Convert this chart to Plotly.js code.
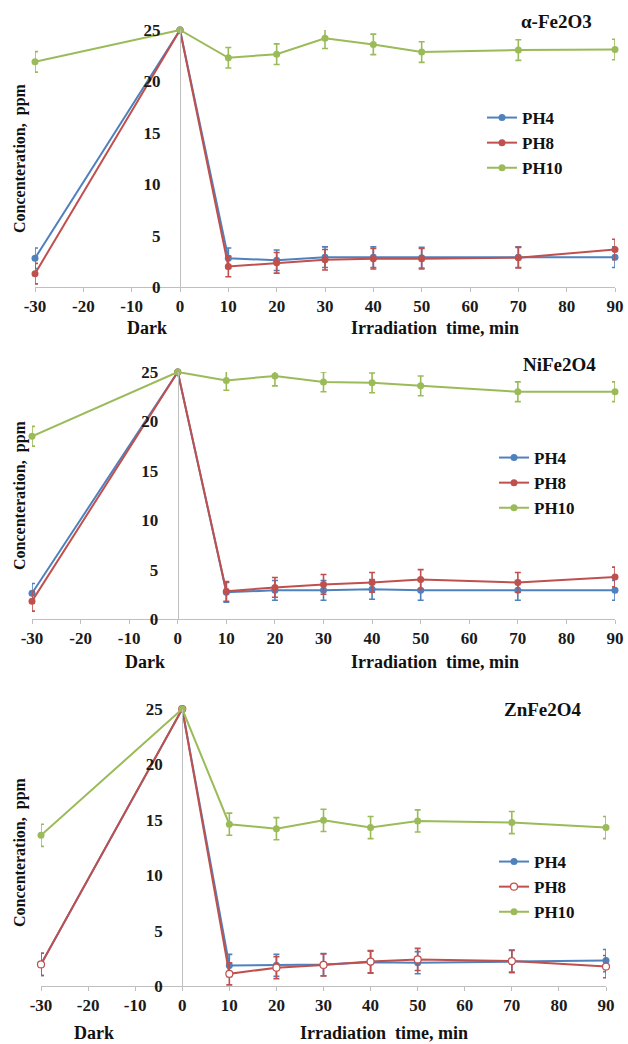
<!DOCTYPE html>
<html>
<head>
<meta charset="utf-8">
<script src="https://cdn.plot.ly/plotly-3.0.1.min.js"></script>
<style>html,body{margin:0;padding:0;background:#fff;}#chart{width:628px;height:1044px;}</style>
</head>
<body>
<div id="chart"></div>
<script>
// ---- data ----
const times = [-30, 0, 10, 20, 30, 40, 50, 70, 90];
const seriesNames = ["PH4", "PH8", "PH10"];
const panelTitles = ["α-Fe2O3", "NiFe2O4", "ZnFe2O4"];
const xTickVals = [-30, -20, -10, 0, 10, 20, 30, 40, 50, 60, 70, 80, 90];
const xTickText = ["-30", "-20", "-10", "0", "10", "20", "30", "40", "50", "60", "70", "80", "90"];
const yTickVals = [0, 5, 10, 15, 20, 25];

// alpha-Fe2O3
const fe_ph4  = [2.8, 25, 2.8, 2.6, 2.9, 2.9, 2.85, 2.9, 2.9];
const fe_ph8  = [1.3, 25, 2.0, 2.35, 2.65, 2.75, 2.75, 2.85, 3.65];
const fe_ph10 = [21.9, 25, 22.3, 22.65, 24.2, 23.6, 22.85, 23.05, 23.1];
// NiFe2O4
const ni_ph4  = [2.6, 25, 2.7, 2.9, 2.9, 3.0, 2.9, 2.9, 2.9];
const ni_ph8  = [1.8, 25, 2.8, 3.2, 3.5, 3.7, 4.0, 3.7, 4.25];
const ni_ph10 = [18.5, 25, 24.15, 24.6, 24.0, 23.9, 23.6, 23.0, 23.0];
// ZnFe2O4
const zn_ph4  = [1.95, 25, 1.85, 1.87, 1.93, 2.15, 2.1, 2.2, 2.3];
const zn_ph8  = [1.95, 25, 1.1, 1.65, 1.9, 2.2, 2.4, 2.25, 1.75];
const zn_ph10 = [13.6, 25, 14.6, 14.2, 14.95, 14.3, 14.9, 14.75, 14.3];

// error magnitudes (ppm)
const errs = [1.0, 0, 1.0, 1.0, 1.0, 1.0, 1.0, 1.0, 1.0];

const panels = [
  [fe_ph4, fe_ph8, fe_ph10],
  [ni_ph4, ni_ph8, ni_ph10],
  [zn_ph4, zn_ph8, zn_ph10]
];

// ---- styling / geometry ----
const W = 628, H = 1044;
const colors = ["#4F81BD", "#C0504D", "#9BBB59"];
const serif = "Liberation Serif";
const px = v => v / W;
const py = v => 1 - v / H;

// pixel boxes of the plot areas [left, right, top(25), bottom(0)]
const boxes = [
  [35, 615, 30, 287],
  [32, 615, 372, 619],
  [41, 606, 709, 986]
];
const legendPos = [[482, 100], [494, 440], [494, 844]];
const titlePos = [[556, 22], [559, 365], [543, 709]];
const ytitlePos = [[20, 158], [20, 495], [20, 852]];
const xlabPos = [[[147, 328], [435, 328]], [[145, 662], [435, 662]], [[94, 1033], [384, 1033]]];

const data = [];
const layout = {
  width: W, height: H,
  margin: {l: 0, r: 0, t: 0, b: 0},
  paper_bgcolor: "#fff", plot_bgcolor: "#fff",
  showlegend: true,
  annotations: []
};

panels.forEach((ser, p) => {
  const sfx = p === 0 ? "" : String(p + 1);
  const b = boxes[p];
  ser.forEach((vals, s) => {
    const openMarker = (p === 2 && s === 1);
    data.push({
      type: "scatter", mode: "lines+markers",
      x: times, y: vals,
      name: seriesNames[s],
      xaxis: "x" + sfx, yaxis: "y" + sfx,
      legend: "legend" + sfx,
      cliponaxis: false,
      line: {color: colors[s], width: 2},
      marker: {color: openMarker ? "#fff" : colors[s], size: 7,
               line: {color: colors[s], width: openMarker ? 1.2 : 0}},
      error_y: {type: "data", array: errs, visible: true, color: colors[s], thickness: 1.6, width: 3}
    });
  });
  const xd = [px(b[0]), px(b[1])];
  layout["xaxis" + sfx] = {
    domain: xd, range: [-30, 90], anchor: "y" + sfx,
    tickvals: xTickVals, ticktext: xTickText, ticks: "outside", ticklen: 4, tickcolor: "#bfbfbf",
    showline: true, linecolor: "#bfbfbf", linewidth: 1,
    showgrid: false, zeroline: false,
    tickfont: {family: serif, size: 17, weight: "bold", color: "#1a1a1a"}
  };
  layout["yaxis" + sfx] = {
    domain: [py(b[3]), py(b[2])], range: [0, 25],
    anchor: "free", position: xd[0] + (xd[1] - xd[0]) * 0.25,
    tickvals: yTickVals, ticks: "", ticklabelstandoff: 16,
    showline: true, linecolor: "#bfbfbf", linewidth: 1,
    showgrid: false, zeroline: false,
    tickfont: {family: serif, size: 17, weight: "bold", color: "#1a1a1a"}
  };
  layout["legend" + sfx] = {
    x: px(legendPos[p][0]), y: py(legendPos[p][1]), xanchor: "left", yanchor: "top",
    bgcolor: "rgba(0,0,0,0)", tracegroupgap: 0, itemwidth: 30,
    font: {family: serif, size: 17, weight: "bold", color: "#111"}
  };
  layout.annotations.push({
    xref: "paper", yref: "paper", x: px(titlePos[p][0]), y: py(titlePos[p][1]),
    text: panelTitles[p], showarrow: false, xanchor: "center", yanchor: "middle",
    font: {family: serif, size: 19, weight: "bold", color: "#111"}
  });
  layout.annotations.push({
    xref: "paper", yref: "paper", x: px(ytitlePos[p][0]), y: py(ytitlePos[p][1]),
    text: "Concenteration,  ppm", showarrow: false, textangle: -90,
    xanchor: "center", yanchor: "middle",
    font: {family: serif, size: 16, weight: "bold", color: "#111"}
  });
  layout.annotations.push({
    xref: "paper", yref: "paper", x: px(xlabPos[p][0][0]), y: py(xlabPos[p][0][1]),
    text: "Dark", showarrow: false, xanchor: "center", yanchor: "middle",
    font: {family: serif, size: 18, weight: "bold", color: "#111"}
  });
  layout.annotations.push({
    xref: "paper", yref: "paper", x: px(xlabPos[p][1][0]), y: py(xlabPos[p][1][1]),
    text: "Irradiation  time, min", showarrow: false, xanchor: "center", yanchor: "middle",
    font: {family: serif, size: 18, weight: "bold", color: "#111"}
  });
});

Plotly.newPlot("chart", data, layout, {staticPlot: true, displayModeBar: false});
</script>
</body>
</html>
